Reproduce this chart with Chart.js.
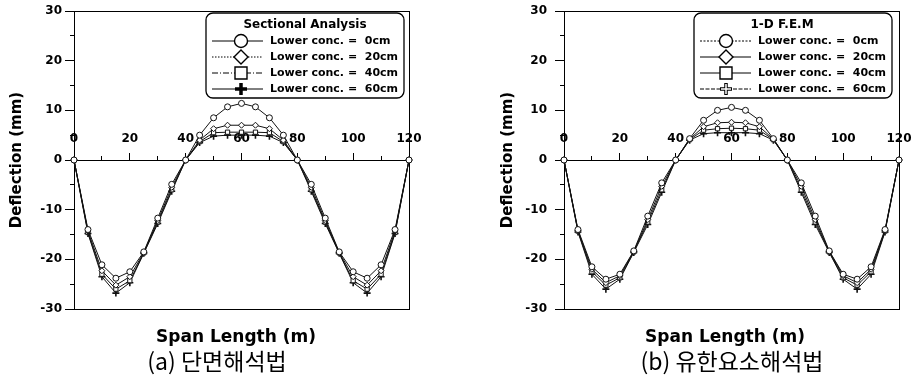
<!DOCTYPE html>
<html>
<head>
<meta charset="utf-8">
<script src="https://cdn.jsdelivr.net/npm/chart.js@4.4.0/dist/chart.umd.min.js"></script>
<style>
  body { margin: 0; background: #fff; }
  #wrap { position: relative; width: 912px; height: 377px; overflow: hidden; background: #fff; }
  .panel { position: absolute; top: 0; width: 456px; height: 377px; }
  .txt { position: absolute; transform: translate(-50%, -50%); white-space: nowrap; line-height: 1; color: #000; }
  .xtitle { font: bold 17px 'DejaVu Sans'; }
  .caption { font: 23px 'Noto Sans CJK KR'; }
</style>
</head>
<body>
<div id="wrap">
  <div class="panel" style="left:0"><canvas id="chartA" width="456" height="377"></canvas></div>
  <div class="panel" style="left:456px"><canvas id="chartB" width="456" height="377"></canvas></div>
  <div class="txt xtitle" style="left:236px; top:336px">Span Length (m)</div>
  <div class="txt caption" style="left:217px; top:360px">(a) 단면해석법</div>
  <div class="txt xtitle" style="left:725px; top:336px">Span Length (m)</div>
  <div class="txt caption" style="left:732px; top:360px">(b) 유한요소해석법</div>
</div>
<script>
// span positions (m)
const spanX = [0, 5, 10, 15, 20, 25, 30, 35, 40, 45, 50, 55, 60, 65, 70, 75, 80, 85, 90, 95, 100, 105, 110, 115, 120];

const seriesLabels = ['Lower conc. =  0cm', 'Lower conc. =  20cm', 'Lower conc. =  40cm', 'Lower conc. =  60cm'];

// (a) sectional analysis, deflection in mm
const secConc0 = [0, -14.0, -21.1, -23.8, -22.5, -18.5, -11.7, -4.9, 0, 5.0, 8.5, 10.7, 11.4, 10.7, 8.5, 5.0, 0, -4.9, -11.7, -18.5, -22.5, -23.8, -21.1, -14.0, 0];
const secConc20 = [0, -14.3, -22.3, -25.2, -23.5, -18.6, -12.2, -5.5, 0, 4.0, 6.3, 7.0, 7.0, 7.0, 6.3, 4.0, 0, -5.5, -12.2, -18.6, -23.5, -25.2, -22.3, -14.3, 0];
const secConc40 = [0, -14.6, -23.0, -26.0, -24.3, -18.7, -12.5, -6.0, 0, 3.7, 5.5, 5.6, 5.6, 5.6, 5.5, 3.7, 0, -6.0, -12.5, -18.7, -24.3, -26.0, -23.0, -14.6, 0];
const secConc60 = [0, -14.8, -23.5, -26.8, -24.7, -18.8, -12.8, -6.3, 0, 3.5, 4.8, 5.0, 5.0, 5.0, 4.8, 3.5, 0, -6.3, -12.8, -18.8, -24.7, -26.8, -23.5, -14.8, 0];

// (b) 1-D F.E.M, deflection in mm
const femConc0 = [0, -14.0, -21.5, -24.0, -23.0, -18.3, -11.3, -4.6, 0, 4.3, 8.0, 10.0, 10.6, 10.0, 8.0, 4.3, 0, -4.6, -11.3, -18.3, -23.0, -24.0, -21.5, -14.0, 0];
const femConc20 = [0, -14.2, -22.0, -24.7, -23.3, -18.4, -12.0, -5.3, 0, 4.2, 6.7, 7.5, 7.6, 7.5, 6.7, 4.2, 0, -5.3, -12.0, -18.4, -23.3, -24.7, -22.0, -14.2, 0];
const femConc40 = [0, -14.3, -22.5, -25.2, -23.7, -18.5, -12.5, -6.0, 0, 4.1, 6.0, 6.3, 6.4, 6.3, 6.0, 4.1, 0, -6.0, -12.5, -18.5, -23.7, -25.2, -22.5, -14.3, 0];
const femConc60 = [0, -14.5, -23.0, -26.0, -24.0, -18.6, -13.0, -6.5, 0, 4.0, 5.3, 5.5, 5.5, 5.5, 5.3, 4.0, 0, -6.5, -13.0, -18.6, -24.0, -26.0, -23.0, -14.5, 0];

const pointStyles = ['circle', 'rectRot', 'rect', 'cross'];
const FONT = 'DejaVu Sans';

Chart.defaults.font.family = FONT;
Chart.defaults.color = '#000';
Chart.defaults.animation = false;

// draws the big legend symbols
function drawSymbol(ctx, style, x, y, hollowCross) {
  ctx.save();
  ctx.strokeStyle = '#000';
  ctx.fillStyle = '#fff';
  ctx.lineWidth = 1.4;
  ctx.beginPath();
  if (style === 'circle') {
    ctx.arc(x, y, 6.5, 0, Math.PI * 2);
    ctx.fill(); ctx.stroke();
  } else if (style === 'rectRot') {
    ctx.moveTo(x, y - 7); ctx.lineTo(x + 7, y); ctx.lineTo(x, y + 7); ctx.lineTo(x - 7, y); ctx.closePath();
    ctx.fill(); ctx.stroke();
  } else if (style === 'rect') {
    ctx.rect(x - 6, y - 6, 12, 12);
    ctx.fill(); ctx.stroke();
  } else {
    ctx.lineWidth = 3.5;
    ctx.moveTo(x - 6, y); ctx.lineTo(x + 6, y);
    ctx.moveTo(x, y - 6); ctx.lineTo(x, y + 6);
    ctx.stroke();
    if (hollowCross) {
      ctx.strokeStyle = '#fff';
      ctx.lineWidth = 1.5;
      ctx.beginPath();
      ctx.moveTo(x - 5, y); ctx.lineTo(x + 5, y);
      ctx.moveTo(x, y - 5); ctx.lineTo(x, y + 5);
      ctx.stroke();
    }
  }
  ctx.restore();
}

// frame around the plot area
const frame = {
  id: 'frame',
  beforeDatasetsDraw(chart) {
    const { left, top, right, bottom } = chart.chartArea;
    const ctx = chart.ctx;
    ctx.save();
    ctx.strokeStyle = '#000';
    ctx.lineWidth = 1;
    ctx.strokeRect(Math.round(left) + 0.5, Math.round(top) + 0.5, Math.round(right - left), Math.round(bottom - top));
    ctx.restore();
  }
};

// boxed legend, top right of the plot
const boxLegend = {
  id: 'boxLegend',
  afterDraw(chart, args, opts) {
    const ctx = chart.ctx;
    const area = chart.chartArea;
    const w = 198, h = 85;
    const bx = area.right - opts.inset - w;
    const by = area.top + 2;
    ctx.save();
    ctx.beginPath();
    ctx.roundRect(bx, by, w, h, 7);
    ctx.fillStyle = '#fff';
    ctx.fill();
    ctx.lineWidth = 1.3;
    ctx.strokeStyle = '#000';
    ctx.stroke();

    ctx.fillStyle = '#000';
    ctx.font = 'bold 12px "' + FONT + '"';
    ctx.textAlign = 'center';
    ctx.textBaseline = 'middle';
    ctx.fillText(opts.title, bx + opts.titleCenter, by + 12);

    chart.data.datasets.forEach((ds, i) => {
      const cy = by + 28 + i * 16;
      ctx.strokeStyle = '#000';
      ctx.lineWidth = 1;
      ctx.setLineDash(opts.dashes[i]);
      ctx.beginPath();
      ctx.moveTo(bx + 6, cy);
      ctx.lineTo(bx + 57, cy);
      ctx.stroke();
      ctx.setLineDash([]);
      drawSymbol(ctx, ds.pointStyle, bx + opts.symbolX, cy, opts.hollowCross);
      ctx.fillStyle = '#000';
      ctx.font = 'bold 11px "' + FONT + '"';
      ctx.textAlign = 'left';
      ctx.fillText(ds.label, bx + 64, cy);
    });
    ctx.restore();
  }
};

function makeDatasets(seriesList) {
  return seriesList.map((vals, i) => ({
    label: seriesLabels[i],
    data: spanX.map((x, j) => ({ x: x, y: vals[j] })),
    borderColor: '#111',
    borderWidth: 1,
    pointStyle: pointStyles[i],
    pointRadius: pointStyles[i] === 'cross' ? 3.5 : 3,
    pointBorderWidth: pointStyles[i] === 'cross' ? 1.6 : 1,
    pointBorderColor: '#111',
    pointBackgroundColor: '#fff',
    tension: 0,
    clip: false
  }));
}

function makeChart(canvasId, seriesList, cfg) {
  const tickFont = { family: FONT, size: 12, weight: 'bold' };
  return new Chart(document.getElementById(canvasId), {
    type: 'line',
    data: { datasets: makeDatasets(seriesList) },
    plugins: [frame, boxLegend],
    options: {
      responsive: false,
      devicePixelRatio: 1,
      layout: { padding: { left: cfg.padLeft, right: cfg.padRight, top: 11, bottom: 68 } },
      plugins: {
        legend: { display: false },
        tooltip: { enabled: false },
        boxLegend: cfg.legend
      },
      scales: {
        x: {
          type: 'linear', min: 0, max: 120,
          position: { y: 0 },
          ticks: { stepSize: 20, padding: -20, font: tickFont, color: '#000', maxRotation: 0, autoSkip: false },
          grid: { drawOnChartArea: false, tickLength: -8, tickColor: '#000', tickWidth: 1 },
          border: { color: '#000', width: 1 }
        },
        x2: {
          type: 'linear', min: 0, max: 120,
          position: { y: 0 },
          ticks: { stepSize: 10, display: false },
          grid: { drawOnChartArea: false, tickLength: -4, tickColor: '#000', tickWidth: 1 },
          border: { display: false }
        },
        y: {
          position: 'left', min: -30, max: 30,
          ticks: { stepSize: 10, padding: cfg.yTickPad, font: tickFont, color: '#000' },
          grid: { drawOnChartArea: false, tickLength: 9, tickColor: '#000', tickWidth: 1 },
          border: { color: '#000', width: 1 },
          title: {
            display: true, text: 'Deflection (mm)', color: '#000',
            font: { family: FONT, size: 15, weight: 'bold' },
            padding: { top: 8, bottom: 0 }
          },
          afterFit: (s) => {
            s.width = cfg.yWidth;
            s.paddingTop = 0;
            s.paddingBottom = 0;
          }
        },
        y2: {
          min: -30, max: 30,
          position: { x: 0 },
          ticks: { stepSize: 5, display: false },
          grid: { drawOnChartArea: false, tickLength: 4, tickColor: '#000', tickWidth: 1 },
          border: { display: false }
        }
      }
    }
  });
}

makeChart('chartA', [secConc0, secConc20, secConc40, secConc60], {
  padLeft: 0, padRight: 47, yWidth: 74, yTickPad: 3,
  legend: {
    title: 'Sectional Analysis', titleCenter: 99, symbolX: 35, inset: 5, hollowCross: false,
    dashes: [[], [1.5, 1.5], [6, 2, 1, 2], []]
  }
});

makeChart('chartB', [femConc0, femConc20, femConc40, femConc60], {
  padLeft: 35, padRight: 13, yWidth: 73, yTickPad: 8,
  legend: {
    title: '1-D F.E.M', titleCenter: 88, symbolX: 32, inset: 7, hollowCross: true,
    dashes: [[2, 1.5], [], [], [4, 1.5]]
  }
});
</script>
</body>
</html>
